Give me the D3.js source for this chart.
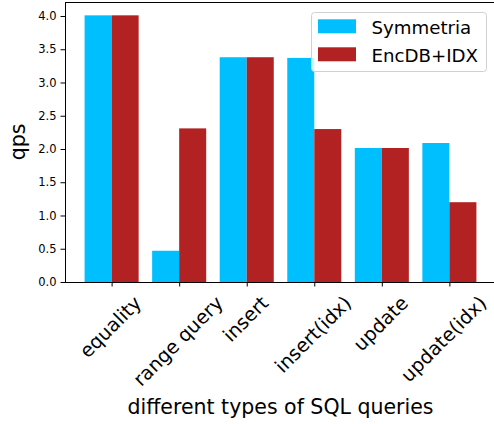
<!DOCTYPE html>
<html>
<head>
<meta charset="utf-8">
<script src="https://cdn.jsdelivr.net/npm/d3@7"></script>
<style>
  body { margin: 0; background: #fff; }
  text { font-family: "DejaVu Sans", sans-serif; fill: #000; }
</style>
</head>
<body>
<div id="chart"></div>
<script>
var categories = ['equality', 'range query', 'insert', 'insert(idx)', 'update', 'update(idx)']
var symmetria = [4.01, 0.47, 3.38, 3.37, 2.015, 2.09]
var encdb = [4.01, 2.31, 3.38, 2.30, 2.015, 1.20]
var yTicks = [0, 0.5, 1, 1.5, 2, 2.5, 3, 3.5, 4]
var seriesNames = ['Symmetria', 'EncDB+IDX']

var conf = {
  width: 494,
  height: 424,
  left: 65,
  right: 496,
  top: 2,
  bottom: 282,
  barW: 0.4,
  colors: ['#00BFFF', '#B22222'],
  tickFont: 11.5,
  catFont: 19.2,
  legendFont: 18.2,
  titleFont: 20.5
}

var svg = d3.select('#chart')
    .append('svg')
    .attr('width', conf.width)
    .attr('height', conf.height)

// matplotlib style limits: bars span -0.4..5.4 with 5% margins
var x = d3.scaleLinear()
    .domain([-0.69, categories.length - 1 + 0.69])
    .range([conf.left, conf.right])
var ymax = d3.max(symmetria.concat(encdb)) * 1.05
var y = d3.scaleLinear()
    .domain([0, ymax])
    .range([conf.bottom, conf.top])

var series = [symmetria, encdb]
series.forEach((vals, s) => {
  svg.selectAll('.bar' + s)
    .data(vals)
    .enter()
    .append('rect')
    .attr('class', 'bar' + s)
    .attr('x', (d, i) => { return x(i - conf.barW + s * conf.barW) })
    .attr('width', x(conf.barW) - x(0))
    .attr('y', d => { return y(d) })
    .attr('height', d => { return y(0) - y(d) })
    .attr('fill', conf.colors[s])
})

// y axis
var yAxis = d3.axisLeft(y)
    .tickValues(yTicks)
    .tickFormat(d3.format('.1f'))
    .tickSize(4.5)
    .tickPadding(4)
var gy = svg.append('g')
    .attr('transform', 'translate(' + conf.left + ',0)')
    .call(yAxis)
gy.select('.domain').remove()
gy.selectAll('line').attr('stroke', '#000')
gy.selectAll('text')
  .style('font-size', conf.tickFont + 'px')
  .style('font-family', '"DejaVu Sans", sans-serif')
  .attr('fill', '#222')

// x axis ticks
var xAxis = d3.axisBottom(x)
    .tickValues(d3.range(categories.length))
    .tickFormat(() => { return '' })
    .tickSize(4.5)
var gx = svg.append('g')
    .attr('transform', 'translate(0,' + conf.bottom + ')')
    .call(xAxis)
gx.select('.domain').remove()
gx.selectAll('line').attr('stroke', '#000')

// rotated category labels: the rotated box is centred on the tick, its top under the tick
// (nudged left if it would run past the right edge)
var labelTop = 294
var lineH = conf.catFont * 1.0
svg.selectAll('.xlbl')
  .data(categories)
  .enter()
  .append('text')
  .attr('class', 'xlbl')
  .style('font-size', conf.catFont + 'px')
  .attr('text-anchor', 'middle')
  .attr('dy', '0.26em')
  .text(d => { return d })
  .each(function (d, i) {
    var w = this.getComputedTextLength()
    var h = (w + lineH) * Math.SQRT1_2
    var cx = Math.min(x(i), conf.width - 3 - h / 2)
    d3.select(this).attr('transform',
      'translate(' + cx + ',' + (labelTop + h / 2) + ') rotate(-45)')
  })

// spines
svg.append('line')
  .attr('x1', conf.left + 0.5).attr('x2', conf.left + 0.5)
  .attr('y1', conf.top).attr('y2', conf.bottom)
  .attr('stroke', '#000')
svg.append('line')
  .attr('x1', conf.left).attr('x2', conf.width)
  .attr('y1', conf.bottom + 0.5).attr('y2', conf.bottom + 0.5)
  .attr('stroke', '#000')
svg.append('line')
  .attr('x1', conf.left).attr('x2', conf.width)
  .attr('y1', conf.top + 0.5).attr('y2', conf.top + 0.5)
  .attr('stroke', '#000')

// axis titles
svg.append('text')
  .attr('x', (conf.left + conf.right) / 2)
  .attr('y', 414)
  .attr('text-anchor', 'middle')
  .style('font-size', conf.titleFont + 'px')
  .text('different types of SQL queries')
svg.append('text')
  .attr('transform', 'translate(24.5,' + (conf.top + conf.bottom) / 2 + ') rotate(-90)')
  .attr('text-anchor', 'middle')
  .style('font-size', conf.titleFont + 'px')
  .text('qps')

// legend
var lg = svg.append('g').attr('transform', 'translate(311,12)')
lg.append('rect')
  .attr('x', 0.5).attr('y', 0.5)
  .attr('width', 175).attr('height', 59)
  .attr('rx', 3)
  .attr('fill', '#fff').attr('fill-opacity', 0.8)
  .attr('stroke', '#d0d0d0')
lg.selectAll('.key')
  .data(seriesNames)
  .enter()
  .append('rect')
  .attr('class', 'key')
  .attr('x', 7)
  .attr('y', (d, i) => { return 7.3 + i * 28 })
  .attr('width', 38)
  .attr('height', 14)
  .attr('fill', (d, i) => { return conf.colors[i] })
lg.selectAll('.keylbl')
  .data(seriesNames)
  .enter()
  .append('text')
  .attr('class', 'keylbl')
  .attr('x', 60.5)
  .attr('y', (d, i) => { return 21.8 + i * 28 })
  .style('font-size', conf.legendFont + 'px')
  .text(d => { return d })
</script>
</body>
</html>
